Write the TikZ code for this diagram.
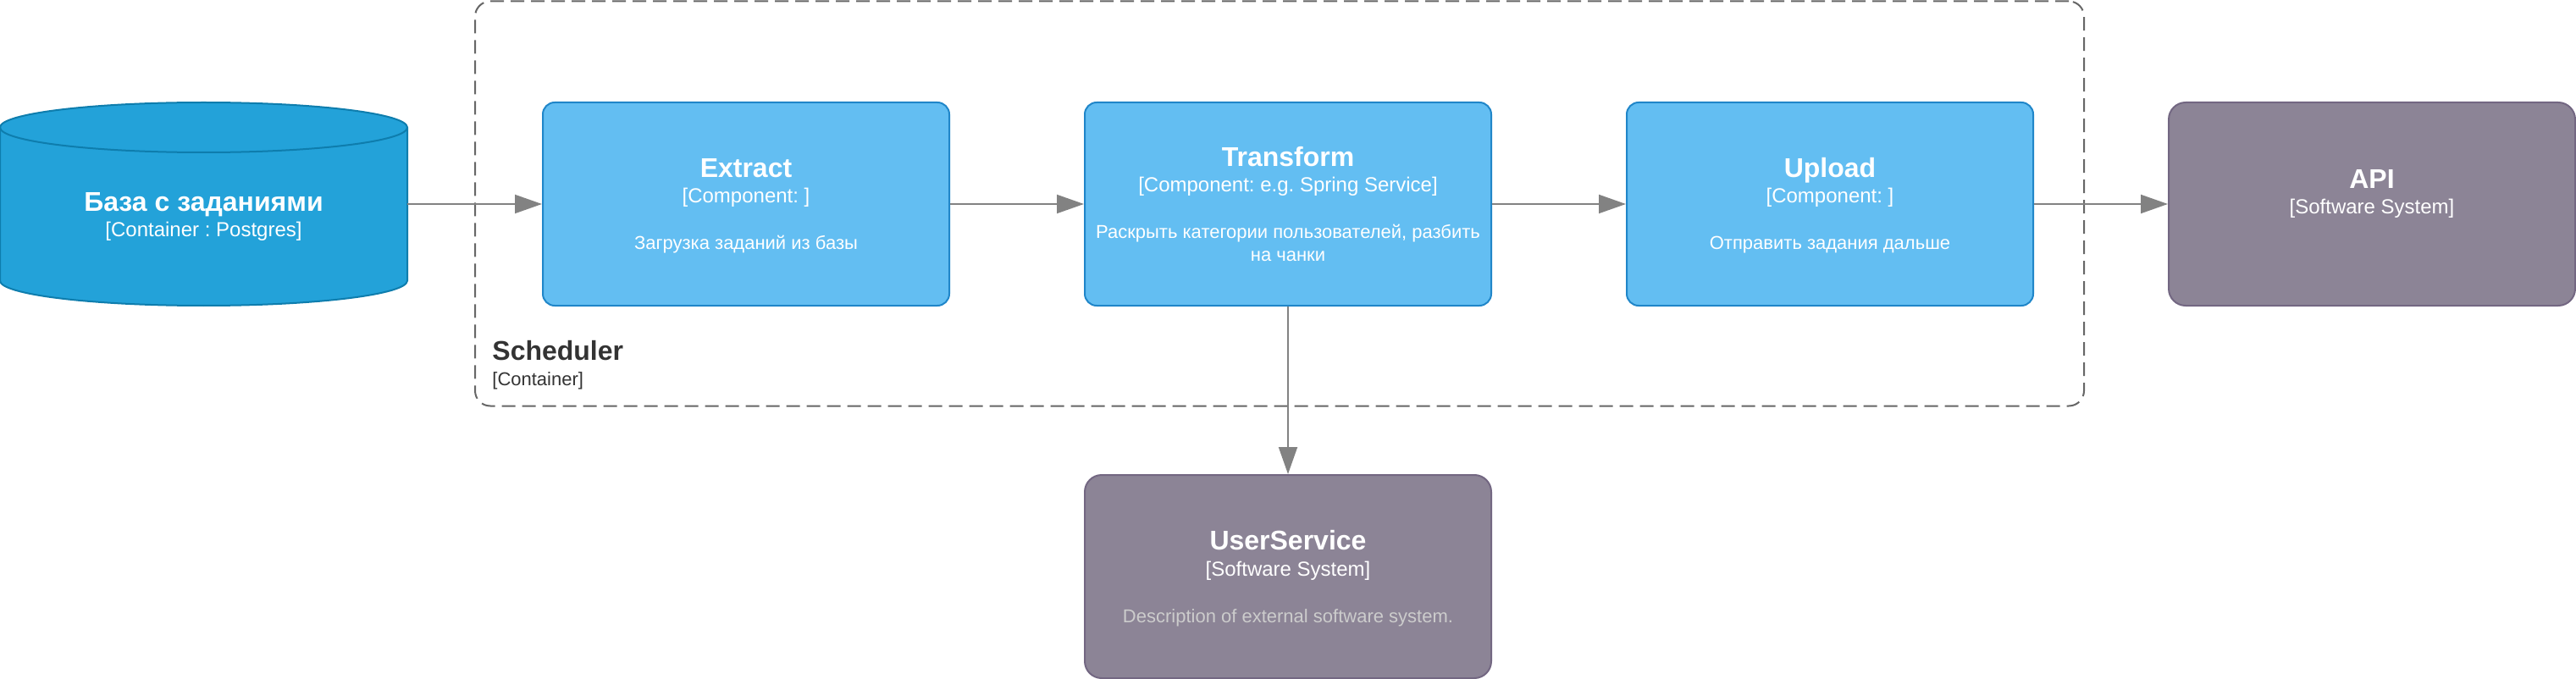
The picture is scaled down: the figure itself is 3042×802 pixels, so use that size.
\documentclass[tikz,border=0pt]{standalone}
\usepackage{fontspec}
\setmainfont{Liberation Sans}
\frenchspacing
\usetikzlibrary{arrows.meta,calc}
\definecolor{compfill}{HTML}{63BEF2}
\definecolor{compline}{HTML}{2086C9}
\definecolor{dbfill}{HTML}{23A2D9}
\definecolor{dbline}{HTML}{0E7DAD}
\definecolor{extfill}{HTML}{8C8496}
\definecolor{extline}{HTML}{736782}
\definecolor{extdesc}{HTML}{CCCCCC}
\definecolor{relline}{HTML}{828282}
\definecolor{bndline}{HTML}{666666}
\definecolor{bndtext}{HTML}{333333}
\tikzset{
	comp/.style={draw=compline, fill=compfill, line width=1pt, rounded corners=7pt, minimum width=240pt, minimum height=120pt},
	ext/.style={draw=extline, fill=extfill, line width=1pt, rounded corners=10pt, minimum width=240pt, minimum height=120pt},
	bnd/.style={draw=bndline, line width=1pt, dash pattern=on 8pt off 4pt, rounded corners=9pt, minimum width=950pt, minimum height=239pt},
	rel/.style={draw=relline, line width=1pt, -{Triangle[length=16pt,width=11pt]}},
	ttl/.style={anchor=base, inner sep=0pt, text=white, font=\bfseries\fontsize{16}{19}\selectfont},
	sub/.style={anchor=base, inner sep=0pt, text=white, font=\fontsize{12}{14}\selectfont},
	dsc/.style={anchor=base, inner sep=0pt, text=white, font=\fontsize{11}{13}\selectfont}
}

\begin{document}
\begin{tikzpicture}[x=0.5pt, y=-0.5pt]
		%%%%% START %%%%%
		\useasboundingbox (0,0) rectangle (3042,802);
		
		% container boundary
		\node[bnd] (sched) at (1511,240.5) {};
		\node[anchor=base west, inner sep=0pt, text=bndtext, font=\bfseries\fontsize{16}{19}\selectfont] (sched-t) at (581,425) {Scheduler};
		\node[anchor=base west, inner sep=0pt, text=bndtext, font=\fontsize{11}{13}\selectfont] (sched-s) at (581,455) {[Container]};
		
		% database
		\node[minimum width=240.5pt, minimum height=120pt] (db) at (240.5,241) {};
		\draw[draw=dbline, fill=dbfill, line width=1pt] (0,150.5) -- (0,331.5) arc[start angle=180, end angle=360, x radius=120.25pt, y radius=14.75pt] -- (481,150.5) arc[start angle=0, end angle=180, x radius=120.25pt, y radius=14.75pt] -- cycle;
		\draw[draw=dbline, line width=1pt] (0,150.5) arc[start angle=180, end angle=360, x radius=120.25pt, y radius=14.75pt];
		\node[ttl] (db-t) at ($(db)+(0,9)$) {База с заданиями};
		\node[sub] (db-s) at ($(db)+(0,39)$) {[Container : Postgres]};
		
		% components
		\node[comp] (extract) at (881,241) {};
		\node[ttl] (extract-t) at ($(extract)+(0,-31)$) {Extract};
		\node[sub] (extract-s) at ($(extract)+(0,-1)$) {[Component: ]};
		\node[dsc] (extract-d) at ($(extract)+(0,54)$) {Загрузка заданий из базы};
		
		\node[comp] (transform) at (1521,241) {};
		\node[ttl] (transform-t) at ($(transform)+(0,-44)$) {Transform};
		\node[sub] (transform-s) at ($(transform)+(0,-14)$) {[Component: e.g. Spring Service]};
		\node[dsc] (transform-d1) at ($(transform)+(0,41)$) {Раскрыть категории пользователей, разбить};
		\node[dsc] (transform-d2) at ($(transform)+(0,68)$) {на чанки};
		
		\node[comp] (upload) at (2161,241) {};
		\node[ttl] (upload-t) at ($(upload)+(0,-31)$) {Upload};
		\node[sub] (upload-s) at ($(upload)+(0,-1)$) {[Component: ]};
		\node[dsc] (upload-d) at ($(upload)+(0,54)$) {Отправить задания дальше};
		
		% external systems
		\node[ext] (api) at (2801,241) {};
		\node[ttl] (api-t) at ($(api)+(0,-18)$) {API};
		\node[sub] (api-s) at ($(api)+(0,12)$) {[Software System]};
		
		\node[ext] (users) at (1521,681) {};
		\node[ttl] (users-t) at ($(users)+(0,-32)$) {UserService};
		\node[sub] (users-s) at ($(users)+(0,-1)$) {[Software System]};
		\node[dsc, text=extdesc] (users-d) at ($(users)+(0,54)$) {Description of external software system.};
		
		% relations
		\draw[rel] (db) -- (extract);
		\draw[rel] (extract) -- (transform);
		\draw[rel] (transform) -- (upload);
		\draw[rel] (upload) -- (api);
		\draw[rel] (transform) -- (users);
		%%%%% END %%%%%
\end{tikzpicture}
\end{document}
